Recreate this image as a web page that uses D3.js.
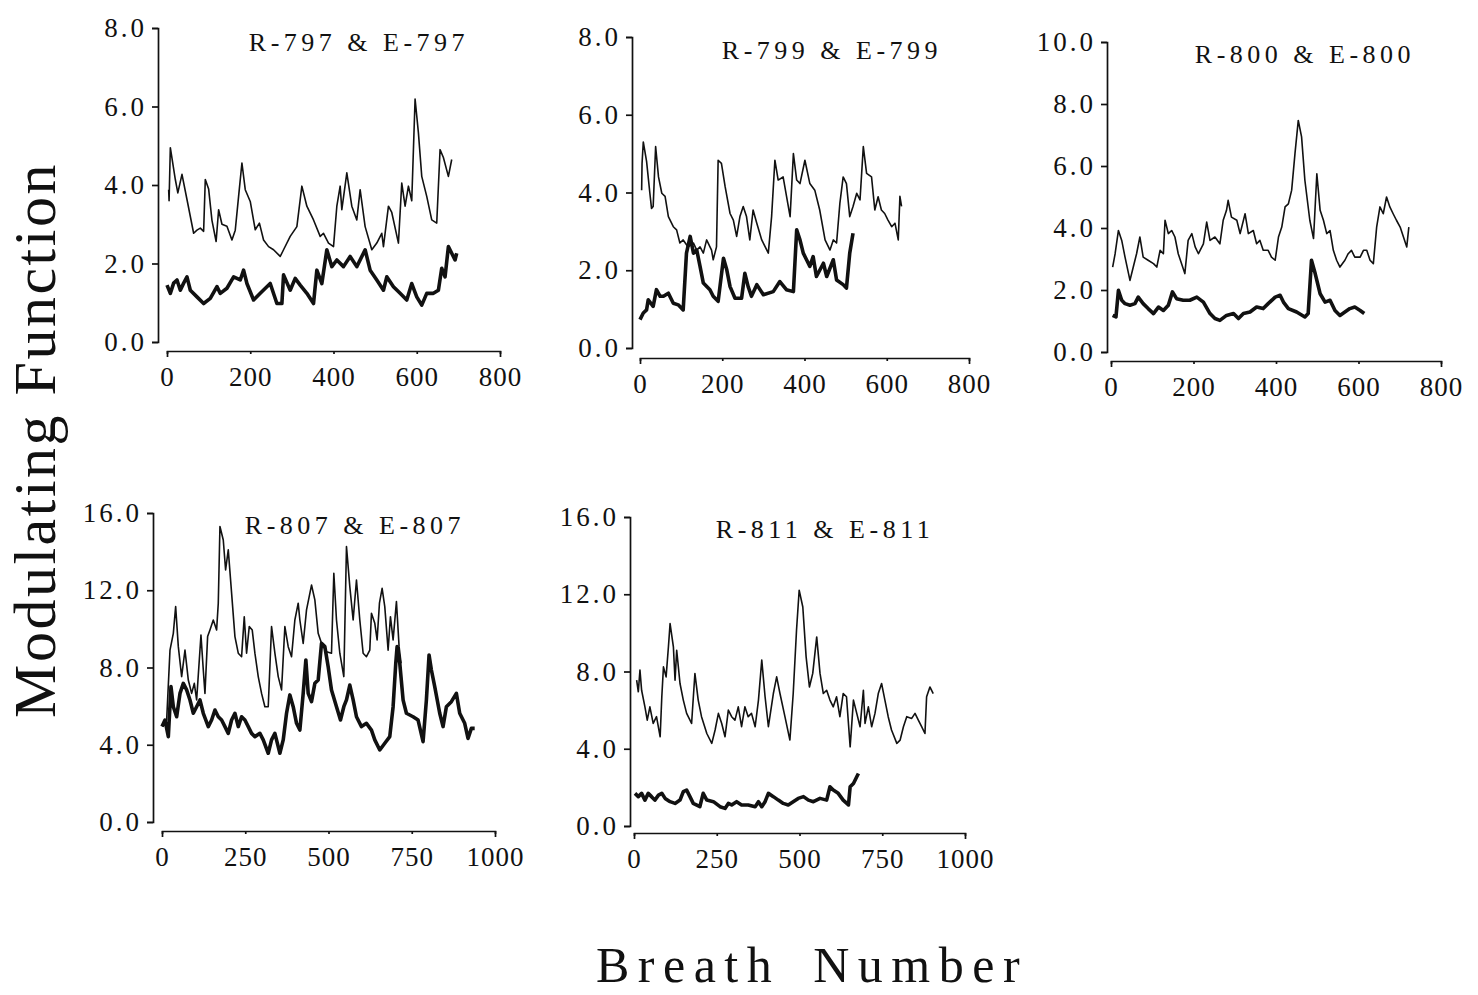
<!DOCTYPE html>
<html>
<head>
<meta charset="utf-8">
<script src="https://cdn.jsdelivr.net/npm/d3@7"></script>
<style>
  html, body { margin: 0; padding: 0; background: #fff; }
  svg { display: block; }
</style>
</head>
<body>
<svg id="chart" width="1478" height="995"></svg>
<script>
// ---------------- DATA (breath number, modulating function) ----------------
const titles = ["R-797 & E-797", "R-799 & E-799", "R-800 & E-800", "R-807 & E-807", "R-811 & E-811"];
const yTicks797 = [0, 2, 4, 6, 8];
const yTicks799 = [0, 2, 4, 6, 8];
const yTicks800 = [0, 2, 4, 6, 8, 10];
const yTicks807 = [0, 4, 8, 12, 16];
const yTicks811 = [0, 4, 8, 12, 16];
const xTicks797 = [0, 200, 400, 600, 800];
const xTicks799 = [0, 200, 400, 600, 800];
const xTicks800 = [0, 200, 400, 600, 800];
const xTicks807 = [0, 250, 500, 750, 1000];
const xTicks811 = [0, 250, 500, 750, 1000];
const yAxisTitle = "Modulating Function";
const xAxisTitle = "Breath Number";

const r797 = [[4,3.88],[5,3.6],[8,4.95],[20,4.14],[26,3.8],[36,4.27],[48,3.63],[64,2.77],[72,2.85],[80,2.9],[88,2.82],[92,4.14],[100,3.9],[108,3.1],[118,2.56],[124,3.37],[132,3.0],[144,2.95],[156,2.6],[164,2.85],[172,3.71],[180,4.56],[188,3.88],[200,3.58],[212,2.86],[222,3.03],[232,2.6],[244,2.43],[256,2.35],[272,2.18],[280,2.35],[296,2.69],[312,2.94],[324,3.97],[336,3.46],[352,3.11],[368,2.69],[376,2.77],[388,2.52],[400,2.43],[408,3.46],[416,3.97],[420,3.37],[432,4.31],[444,3.46],[456,3.11],[464,3.88],[476,2.94],[492,2.35],[504,2.52],[516,2.77],[520,2.43],[532,3.46],[540,3.3],[556,2.52],[564,4.05],[572,3.46],[580,3.97],[588,3.6],[596,6.19],[604,5.33],[612,4.22],[624,3.71],[636,3.11],[648,3.03],[656,4.9],[664,4.7],[676,4.22],[684,4.65]];
const e797 = [[0,1.45],[8,1.24],[16,1.5],[24,1.58],[32,1.32],[40,1.5],[48,1.66],[56,1.32],[72,1.15],[88,0.98],[104,1.11],[120,1.41],[128,1.24],[144,1.37],[160,1.66],[176,1.58],[184,1.83],[192,1.49],[208,1.07],[224,1.24],[248,1.49],[264,0.98],[276,0.98],[280,1.71],[296,1.32],[308,1.62],[320,1.45],[336,1.24],[352,0.98],[360,1.83],[372,1.49],[384,2.35],[396,1.92],[408,2.09],[424,1.92],[440,2.18],[456,1.92],[476,2.35],[488,1.83],[504,1.58],[520,1.32],[528,1.66],[544,1.41],[560,1.24],[576,1.07],[588,1.49],[600,1.15],[612,0.94],[624,1.24],[640,1.24],[652,1.32],[660,1.88],[668,1.66],[676,2.43],[684,2.26],[692,2.09],[696,2.26]];

const r799 = [[4,4.06],[5,4.75],[8,5.3],[16,4.8],[24,3.98],[28,3.59],[32,3.64],[38,5.18],[45,4.4],[53,3.98],[61,3.9],[69,3.38],[81,3.12],[89,3.04],[97,2.7],[105,2.78],[117,2.6],[130,2.7],[138,2.52],[146,2.6],[154,2.44],[162,2.78],[174,2.52],[178,2.27],[186,2.6],[190,4.83],[198,4.75],[207,4.15],[219,3.46],[227,3.29],[235,2.87],[243,3.38],[251,3.64],[259,3.38],[267,2.78],[275,3.55],[284,3.21],[296,2.78],[312,2.44],[320,3.38],[328,4.83],[336,4.32],[348,4.4],[365,3.38],[373,5.0],[381,4.32],[389,4.23],[401,4.83],[413,4.23],[425,4.06],[437,3.55],[450,2.78],[462,2.52],[470,2.78],[478,2.7],[486,3.72],[494,4.4],[502,4.23],[510,3.38],[518,3.64],[527,3.98],[535,3.81],[543,5.18],[551,4.49],[563,4.4],[571,3.55],[579,3.89],[587,3.55],[595,3.46],[603,3.29],[612,3.12],[620,3.21],[628,2.78],[632,3.9],[636,3.64]];
const e799 = [[0,0.73],[8,0.9],[16,0.98],[20,1.24],[32,1.07],[40,1.5],[49,1.33],[57,1.33],[69,1.41],[81,1.15],[93,1.11],[105,0.98],[113,2.44],[122,2.87],[130,2.44],[138,2.52],[146,2.1],[154,1.67],[170,1.5],[178,1.33],[190,1.2],[203,2.31],[211,2.01],[219,1.58],[231,1.28],[247,1.28],[255,1.92],[263,1.58],[271,1.33],[284,1.63],[300,1.37],[324,1.45],[340,1.71],[356,1.5],[373,1.45],[381,3.04],[389,2.78],[397,2.44],[405,2.27],[413,2.1],[421,2.35],[429,1.84],[446,2.18],[454,1.84],[470,2.27],[478,1.75],[494,1.63],[502,1.54],[510,2.44],[518,2.95]];

const r800 = [[4,2.74],[10,3.17],[18,3.92],[26,3.6],[34,3.06],[46,2.31],[54,2.74],[62,3.17],[70,3.71],[78,3.06],[90,2.96],[103,2.85],[111,2.74],[119,3.28],[127,3.17],[131,4.25],[139,3.82],[147,3.92],[155,3.71],[163,3.17],[179,2.53],[187,3.6],[196,3.82],[204,3.39],[212,3.17],[224,3.49],[232,4.19],[240,3.6],[252,3.71],[264,3.49],[272,4.25],[280,4.57],[284,4.89],[292,4.35],[305,4.25],[313,3.82],[325,4.46],[333,3.82],[345,3.92],[353,3.49],[361,3.6],[369,3.28],[381,3.28],[389,3.06],[398,2.96],[406,3.71],[414,4.03],[422,4.68],[430,4.78],[438,5.22],[446,6.4],[454,7.47],[462,6.94],[470,5.54],[482,4.25],[491,3.66],[499,5.75],[507,4.57],[515,4.25],[523,3.82],[531,3.92],[539,3.28],[547,2.96],[555,2.74],[567,2.96],[575,3.17],[583,3.28],[591,3.06],[604,3.06],[612,3.28],[620,3.28],[628,2.96],[636,2.85],[644,4.03],[652,4.68],[660,4.46],[668,5.0],[676,4.68],[684,4.46],[692,4.25],[701,4.03],[709,3.71],[717,3.39],[722,4.03]];
const e800 = [[4,1.18],[12,1.13],[18,1.99],[26,1.67],[34,1.56],[46,1.51],[58,1.56],[66,1.77],[78,1.56],[90,1.4],[103,1.24],[115,1.45],[127,1.34],[139,1.51],[149,1.94],[159,1.72],[175,1.67],[191,1.67],[208,1.77],[224,1.61],[240,1.24],[252,1.08],[264,1.02],[280,1.18],[297,1.24],[309,1.08],[321,1.24],[337,1.29],[353,1.45],[369,1.4],[381,1.56],[398,1.77],[410,1.83],[418,1.61],[430,1.4],[450,1.29],[470,1.13],[478,1.24],[486,2.96],[495,2.53],[507,1.88],[519,1.61],[531,1.67],[543,1.34],[555,1.18],[567,1.29],[579,1.4],[591,1.45],[604,1.34],[614,1.24]];

const r807 = [[2,4.94],[14,5.28],[24,8.9],[34,9.77],[41,11.15],[49,9.08],[59,7.53],[69,8.9],[79,7.35],[89,6.66],[97,7.18],[104,6.32],[117,9.68],[124,7.87],[129,6.66],[137,9.6],[144,9.94],[154,10.46],[164,9.94],[169,11.33],[174,15.3],[184,14.6],[191,13.05],[199,14.09],[209,11.85],[219,9.6],[229,8.74],[239,8.56],[247,10.63],[254,8.74],[262,10.12],[271,9.94],[279,8.74],[289,7.53],[299,6.66],[309,5.97],[319,5.97],[329,10.12],[339,8.74],[349,7.53],[359,6.84],[369,10.12],[379,9.08],[389,8.56],[399,10.46],[409,11.33],[414,10.46],[424,9.25],[434,10.98],[449,12.27],[459,11.5],[469,9.77],[479,9.25],[494,8.82],[509,8.74],[516,12.88],[524,10.46],[534,8.74],[546,7.53],[554,14.26],[564,12.19],[574,10.46],[584,12.53],[594,10.46],[604,8.74],[614,8.56],[624,8.9],[629,10.81],[639,10.29],[646,9.43],[653,11.33],[661,12.1],[669,11.15],[679,8.9],[686,10.63],[694,9.43],[704,11.41],[712,9.08],[718,8.22]];
const e807 = [[0,4.94],[9,5.28],[19,4.42],[27,7.01],[34,5.97],[44,5.45],[54,6.66],[64,7.18],[74,6.84],[84,6.32],[94,5.63],[104,5.97],[114,6.32],[124,5.63],[139,4.94],[149,5.28],[159,5.8],[169,5.45],[179,5.28],[189,4.94],[199,4.59],[209,5.28],[219,5.63],[229,4.94],[239,5.45],[249,5.28],[259,4.94],[269,4.59],[279,4.42],[294,4.59],[304,4.25],[319,3.56],[329,4.25],[339,4.59],[354,3.56],[364,4.25],[374,5.63],[384,6.58],[394,5.97],[404,5.11],[414,4.76],[424,6.66],[432,8.39],[439,6.66],[449,6.23],[459,7.18],[469,7.35],[479,9.25],[489,9.08],[499,8.04],[509,6.84],[524,5.97],[536,5.28],[546,5.97],[554,6.32],[564,7.09],[574,6.32],[584,5.45],[599,4.94],[614,5.11],[629,4.76],[639,4.25],[654,3.73],[669,4.08],[684,4.42],[694,5.97],[702,8.22],[706,9.08],[714,8.22],[724,6.32],[734,5.63],[754,5.45],[769,5.28],[784,4.16],[794,6.32],[802,8.65],[809,7.87],[819,7.01],[834,5.63],[844,4.94],[854,5.97],[869,6.23],[884,6.66],[894,5.63],[909,5.11],[919,4.33],[929,4.85],[939,4.85]];

const r811 = [[8,7.55],[13,6.95],[18,8.07],[23,7.03],[33,6.17],[40,5.48],[48,6.17],[58,5.31],[68,5.66],[79,4.62],[84,6.69],[89,8.24],[97,7.72],[104,9.28],[109,10.48],[119,9.28],[124,7.55],[129,9.1],[139,7.38],[149,6.52],[159,5.83],[174,5.31],[184,7.9],[194,6.52],[204,5.66],[220,4.79],[235,4.28],[245,4.97],[255,5.83],[265,5.31],[275,4.62],[285,6.0],[295,5.66],[305,5.48],[315,6.17],[325,5.14],[335,6.17],[345,5.66],[355,5.83],[366,5.14],[376,6.52],[386,8.59],[396,6.69],[406,5.14],[421,6.86],[431,7.72],[441,6.86],[456,5.66],[471,4.45],[481,6.86],[491,10.14],[499,12.21],[510,11.34],[520,8.76],[530,7.2],[540,7.9],[552,9.79],[562,7.9],[572,6.86],[582,7.03],[592,6.52],[602,6.17],[612,6.69],[622,5.66],[632,6.86],[642,6.69],[653,4.1],[663,6.52],[673,5.83],[683,5.14],[693,7.03],[698,5.31],[708,6.17],[718,5.14],[728,5.83],[738,6.86],[748,7.38],[758,6.52],[768,5.66],[778,4.97],[794,4.28],[804,4.45],[814,5.14],[824,5.66],[839,5.57],[849,5.83],[859,5.48],[869,5.14],[879,4.79],[884,6.69],[894,7.2],[904,6.86]];
const e811 = [[3,1.69],[13,1.52],[23,1.69],[33,1.34],[43,1.69],[53,1.52],[63,1.34],[74,1.6],[84,1.69],[94,1.43],[109,1.26],[124,1.17],[139,1.34],[149,1.78],[159,1.86],[169,1.52],[179,1.17],[199,1.0],[209,1.69],[220,1.34],[240,1.26],[260,1.0],[275,0.91],[285,1.17],[295,1.09],[310,1.26],[325,1.09],[345,1.09],[366,1.0],[376,1.26],[386,1.0],[396,1.26],[406,1.69],[421,1.52],[436,1.34],[451,1.17],[466,1.09],[481,1.26],[496,1.43],[512,1.52],[527,1.34],[542,1.26],[562,1.43],[582,1.34],[592,2.03],[602,1.86],[617,1.69],[632,1.34],[648,1.09],[653,2.03],[663,2.2],[673,2.55],[678,2.72]];

// ---------------- LAYOUT (pixel geometry, not data) ----------------
const layout = [
  {yAxisX:158,  yTop:28,  yBot:342, xAxisY:351, xLeft:167,  xRight:500,  titleX:357,  titleY:51},
  {yAxisX:632,  yTop:37,  yBot:348, xAxisY:358, xLeft:640,  xRight:969,  titleX:830,  titleY:59},
  {yAxisX:1107, yTop:42,  yBot:352, xAxisY:361, xLeft:1111, xRight:1441, titleX:1303, titleY:63},
  {yAxisX:153,  yTop:513, yBot:822, xAxisY:831, xLeft:162,  xRight:495,  titleX:353,  titleY:534},
  {yAxisX:630,  yTop:517, yBot:826, xAxisY:833, xLeft:634,  xRight:965,  titleX:823,  titleY:538}
];

const panels = [
  {title: titles[0], thin: r797, thick: e797, yTicks: yTicks797, xTicks: xTicks797},
  {title: titles[1], thin: r799, thick: e799, yTicks: yTicks799, xTicks: xTicks799},
  {title: titles[2], thin: r800, thick: e800, yTicks: yTicks800, xTicks: xTicks800},
  {title: titles[3], thin: r807, thick: e807, yTicks: yTicks807, xTicks: xTicks807},
  {title: titles[4], thin: r811, thick: e811, yTicks: yTicks811, xTicks: xTicks811}
];

const FONT = "'Liberation Serif', 'Times New Roman', Times, serif";
const INK = "#111";
const svg = d3.select("#chart");

panels.forEach((p, i) => {
  const L = layout[i];
  const x = d3.scaleLinear().domain([0, p.xTicks[p.xTicks.length - 1]]).range([L.xLeft, L.xRight]);
  const y = d3.scaleLinear().domain([0, p.yTicks[p.yTicks.length - 1]]).range([L.yBot, L.yTop]);

  const gy = svg.append("g")
    .attr("transform", `translate(${L.yAxisX},0)`)
    .call(d3.axisLeft(y).tickValues(p.yTicks).tickFormat(d3.format(".1f"))
      .tickSizeInner(6).tickSizeOuter(6).tickPadding(5));
  gy.attr("font-family", FONT).attr("font-size", 27);
  gy.selectAll("path, line").attr("stroke", INK).attr("stroke-width", 1.7);
  gy.selectAll("text").attr("fill", INK).style("letter-spacing", "3px");

  const gx = svg.append("g")
    .attr("transform", `translate(0,${L.xAxisY})`)
    .call(d3.axisBottom(x).tickValues(p.xTicks).tickFormat(d3.format("d"))
      .tickSizeInner(3).tickSizeOuter(6).tickPadding(13));
  gx.attr("font-family", FONT).attr("font-size", 27);
  gx.selectAll("path, line").attr("stroke", INK).attr("stroke-width", 1.7);
  gx.selectAll("text").attr("fill", INK).style("letter-spacing", "1px");

  const line = d3.line().x(d => x(d[0])).y(d => y(d[1]));

  svg.append("path").datum(p.thin)
    .attr("d", line).attr("fill", "none").attr("stroke", INK)
    .attr("stroke-width", 1.6).attr("stroke-linejoin", "round");
  svg.append("path").datum(p.thick)
    .attr("d", line).attr("fill", "none").attr("stroke", INK)
    .attr("stroke-width", 3.6).attr("stroke-linejoin", "round");

  svg.append("text")
    .attr("x", L.titleX + 2).attr("y", L.titleY)
    .attr("text-anchor", "middle")
    .attr("font-family", FONT).attr("font-size", 26)
    .style("letter-spacing", "4.5px")
    .attr("fill", INK)
    .text(p.title);
});

svg.append("text")
  .attr("transform", "translate(55,440) rotate(-90)")
  .attr("text-anchor", "middle")
  .attr("font-family", FONT).attr("font-size", 60)
  .style("letter-spacing", "2.5px")
  .attr("fill", INK)
  .text(yAxisTitle);

svg.append("text")
  .attr("x", 812).attr("y", 982)
  .attr("text-anchor", "middle")
  .attr("font-family", FONT).attr("font-size", 50)
  .style("letter-spacing", "8.5px")
  .style("word-spacing", "12px")
  .attr("fill", INK)
  .text(xAxisTitle);
</script>
</body>
</html>
